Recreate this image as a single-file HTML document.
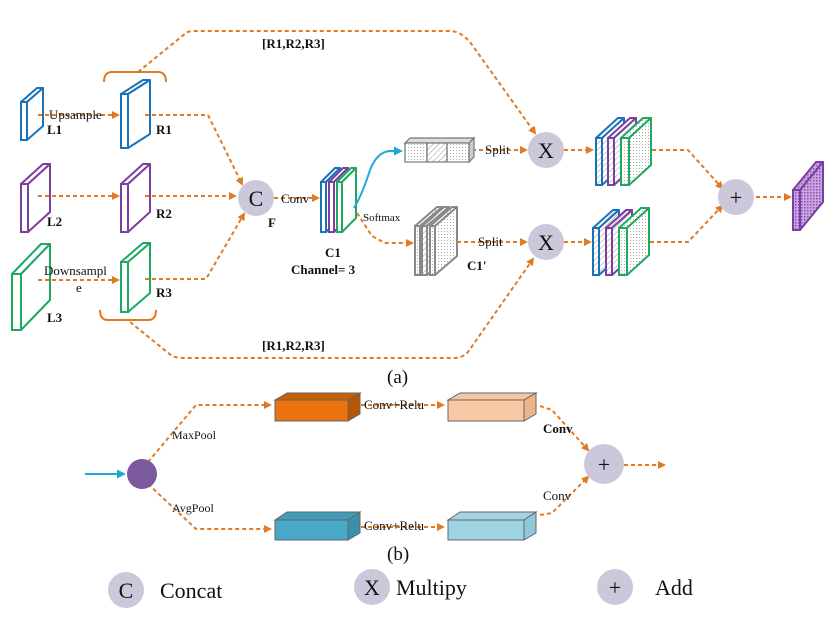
<!DOCTYPE html>
<html><head><meta charset="utf-8">
<style>
html,body{margin:0;padding:0;background:#fff;}
svg{display:block;}
text{font-family:"Liberation Serif",serif;fill:#111;}
</style></head>
<body>
<svg id="s" width="836" height="618" viewBox="0 0 836 618" xmlns="http://www.w3.org/2000/svg">
<defs>
<marker id="ao" markerWidth="8" markerHeight="8" refX="6" refY="4" orient="auto" markerUnits="userSpaceOnUse"><path d="M0,0 L8,4 L0,8 z" fill="#e07b24"/></marker>
<marker id="ab" markerWidth="9" markerHeight="9" refX="7" refY="4.5" orient="auto" markerUnits="userSpaceOnUse"><path d="M0,0 L9,4.5 L0,9 z" fill="#1fa8d8"/></marker>
<pattern id="hatch" width="4" height="4" patternUnits="userSpaceOnUse" patternTransform="rotate(45)"><rect width="4" height="4" fill="#fff"/><line x1="0" y1="0" x2="0" y2="4" stroke="#999" stroke-width="1"/></pattern>
<pattern id="dots" width="3" height="3" patternUnits="userSpaceOnUse"><rect width="3" height="3" fill="#fff"/><rect width="1" height="1" fill="#aaa"/></pattern>
<pattern id="pdots" width="3" height="3" patternUnits="userSpaceOnUse"><rect width="3" height="3" fill="#c9a6df"/><rect width="1.5" height="1.5" fill="#8a4fb8"/></pattern>
</defs>
<g id="shapes"></g>

<g fill="none" stroke="#e07b24" stroke-width="2" stroke-dasharray="4,3">
<path d="M138,72 L186,33 Q188,31 195,31 L450,31 Q460,31 470,42 L535,133" marker-end="url(#ao)"/>
<path d="M130,322 L172,356 Q176,358 185,358 L455,358 Q462,358 468,352 L533,259" marker-end="url(#ao)"/>
<path d="M38,115 L118,115" marker-end="url(#ao)"/>
<path d="M38,196 L118,196" marker-end="url(#ao)"/>
<path d="M38,280 L118,280" marker-end="url(#ao)"/>
<path d="M145,115 L208,115 L242,184" marker-end="url(#ao)"/>
<path d="M145,196 L235,196" marker-end="url(#ao)"/>
<path d="M145,279 L206,279 L244,214" marker-end="url(#ao)"/>
<path d="M274,198 L318,198" marker-end="url(#ao)"/>
<path d="M357,213 L372,236 L385,243 L412,243" marker-end="url(#ao)"/>
<path d="M472,150 L526,150" marker-end="url(#ao)"/>
<path d="M457,242 L526,242" marker-end="url(#ao)"/>
<path d="M564,150 L592,150" marker-end="url(#ao)"/>
<path d="M564,242 L590,242" marker-end="url(#ao)"/>
<path d="M652,150 L688,150 L722,188" marker-end="url(#ao)"/>
<path d="M650,242 L688,242 L722,206" marker-end="url(#ao)"/>
<path d="M756,197 L790,197" marker-end="url(#ao)"/>
<path d="M148,462 L196,405 L270,405" marker-end="url(#ao)"/>
<path d="M148,484 L196,529 L270,529" marker-end="url(#ao)"/>
<path d="M361,405 L443,405" marker-end="url(#ao)"/>
<path d="M361,527 L443,527" marker-end="url(#ao)"/>
<path d="M540,406 L552,410 L588,450" marker-end="url(#ao)"/>
<path d="M540,515 L552,513 L588,477" marker-end="url(#ao)"/>
<path d="M624,465 L664,465" marker-end="url(#ao)"/>
</g>
<path d="M104,82 Q104,72 112,72 L158,72 Q166,72 166,82" fill="none" stroke="#e07b24" stroke-width="2"/>
<path d="M100,310 Q100,320 108,320 L148,320 Q156,320 156,310" fill="none" stroke="#e07b24" stroke-width="2"/>
<path d="M354,208 Q362,195 370,170 Q378,150 392,151 L401,151" fill="none" stroke="#1fa8d8" stroke-width="2" marker-end="url(#ab)"/>
<path d="M85,474 L124,474" fill="none" stroke="#1fa8d8" stroke-width="2" marker-end="url(#ab)"/>

<g fill="#cdc7dc">
<circle cx="256" cy="198" r="18"/>
<circle cx="546" cy="150" r="18"/>
<circle cx="546" cy="242" r="18"/>
<circle cx="736" cy="197" r="18"/>
<circle cx="604" cy="464" r="20"/>
<circle cx="126" cy="590" r="18"/>
<circle cx="372" cy="587" r="18"/>
<circle cx="615" cy="587" r="18"/>
</g>
<circle cx="142" cy="474" r="15" fill="#7a5a9c"/>

<g stroke="#666" stroke-width="1">
<polygon points="275,400 287,393 360,393 348,400" fill="#c85e05"/>
<polygon points="348,400 360,393 360,414 348,421" fill="#b75504"/>
<rect x="275" y="400" width="73" height="21" fill="#eb720f"/>
<polygon points="448,400 460,393 536,393 524,400" fill="#f2c7a4"/>
<polygon points="524,400 536,393 536,414 524,421" fill="#ebb58c"/>
<rect x="448" y="400" width="76" height="21" fill="#f8c8a4"/>
<polygon points="275,520 287,512 360,512 348,520" fill="#3f9bba"/>
<polygon points="348,520 360,512 360,533 348,540" fill="#3890ad"/>
<rect x="275" y="520" width="73" height="20" fill="#48a8c8"/>
<polygon points="448,520 460,512 536,512 524,520" fill="#a2d3e2"/>
<polygon points="524,520 536,512 536,533 524,540" fill="#8ec8da"/>
<rect x="448" y="520" width="76" height="20" fill="#9fd2e2"/>
</g>

<g stroke="#777" stroke-width="1.2">
<polygon points="405,143 410,138 474,138 469,143" fill="#ddd"/>
<polygon points="469,143 474,138 474,157 469,162" fill="#ccc"/>
<rect x="405" y="143" width="22" height="19" fill="url(#dots)"/>
<rect x="427" y="143" width="20" height="19" fill="url(#hatch)"/>
<rect x="447" y="143" width="22" height="19" fill="url(#dots)"/>
</g>

<g font-size="13">
<text x="49" y="119">Upsample</text>
<text x="44" y="275">Downsampl</text>
<text x="76" y="292">e</text>
<text x="281" y="203">Conv</text>
<text x="485" y="154">Split</text>
<text x="478" y="246">Split</text>
<text x="364" y="409">Conv+Relu</text>
<text x="364" y="530">Conv+Relu</text>
<text x="543" y="500">Conv</text>
</g>
<g font-size="13" font-weight="bold">
<text x="47" y="134">L1</text>
<text x="156" y="134">R1</text>
<text x="47" y="226">L2</text>
<text x="156" y="218">R2</text>
<text x="47" y="322">L3</text>
<text x="156" y="297">R3</text>
<text x="268" y="227">F</text>
<text x="325" y="257">C1</text>
<text x="291" y="274">Channel= 3</text>
<text x="467" y="270">C1'</text>
<text x="262" y="48">[R1,R2,R3]</text>
<text x="262" y="350">[R1,R2,R3]</text>
<text x="543" y="433">Conv</text>
</g>
<text x="363" y="221" font-size="11">Softmax</text>
<text x="172" y="439" font-size="12">MaxPool</text>
<text x="172" y="512" font-size="12">AvgPool</text>
<text x="387" y="383" font-size="19">(a)</text>
<text x="387" y="560" font-size="19">(b)</text>
<g font-size="22" text-anchor="middle">
<text x="256" y="206">C</text>
<text x="546" y="158">X</text>
<text x="546" y="250">X</text>
<text x="736" y="205">+</text>
<text x="604" y="472">+</text>
<text x="126" y="598">C</text>
<text x="372" y="595">X</text>
<text x="615" y="595">+</text>
</g>
<g font-size="22">
<text x="160" y="598">Concat</text>
<text x="396" y="595">Multipy</text>
<text x="655" y="595">Add</text>
</g>
</svg>
<script>
var g=document.getElementById('shapes');var NS='http://www.w3.org/2000/svg';
function el(t,a){var e=document.createElementNS(NS,t);for(var k in a)e.setAttribute(k,a[k]);g.appendChild(e);return e;}
function slab(x,y,w,h,dx,dy,c,f,sw){f=f||'#fff';sw=sw||2;
el('polygon',{points:[x,y,x+dx,y-dy,x+w+dx,y-dy,x+w,y].join(','),fill:f,stroke:c,'stroke-width':sw,'stroke-linejoin':'round'});
el('polygon',{points:[x+w,y,x+w+dx,y-dy,x+w+dx,y+h-dy,x+w,y+h].join(','),fill:f,stroke:c,'stroke-width':sw,'stroke-linejoin':'round'});
el('rect',{x:x,y:y,width:w,height:h,fill:f,stroke:c,'stroke-width':sw});}
var B='#1a73b8',P='#7a3fa0',G='#1fa860';
slab(21,102,6,38,16,14,B);
slab(121,94,7,54,22,14,B);
slab(21,184,7,48,22,20,P);
slab(121,184,7,48,22,20,P);
slab(12,274,9,56,29,30,G);
slab(121,262,7,50,22,19,G);
slab(321,182,5,50,14,14,B);
slab(329,182,5,50,14,14,P);
slab(337,182,5,50,14,14,G);
slab(415,226,5,49,22,19,'#888','url(#dots)');
slab(422,226,5,49,22,19,'#888','url(#hatch)');
slab(430,226,5,49,22,19,'#888','url(#dots)');
slab(596,138,6,47,22,20,B,'url(#hatch)');
slab(608,138,6,47,22,20,P,'url(#hatch)');
slab(621,138,8,47,22,20,G,'url(#dots)');
slab(593,228,6,47,20,18,B,'url(#hatch)');
slab(606,228,6,47,20,18,P,'url(#hatch)');
slab(619,228,8,47,22,20,G,'url(#dots)');
slab(793,190,7,40,23,28,P,'url(#pdots)');
</script>
</body></html>
